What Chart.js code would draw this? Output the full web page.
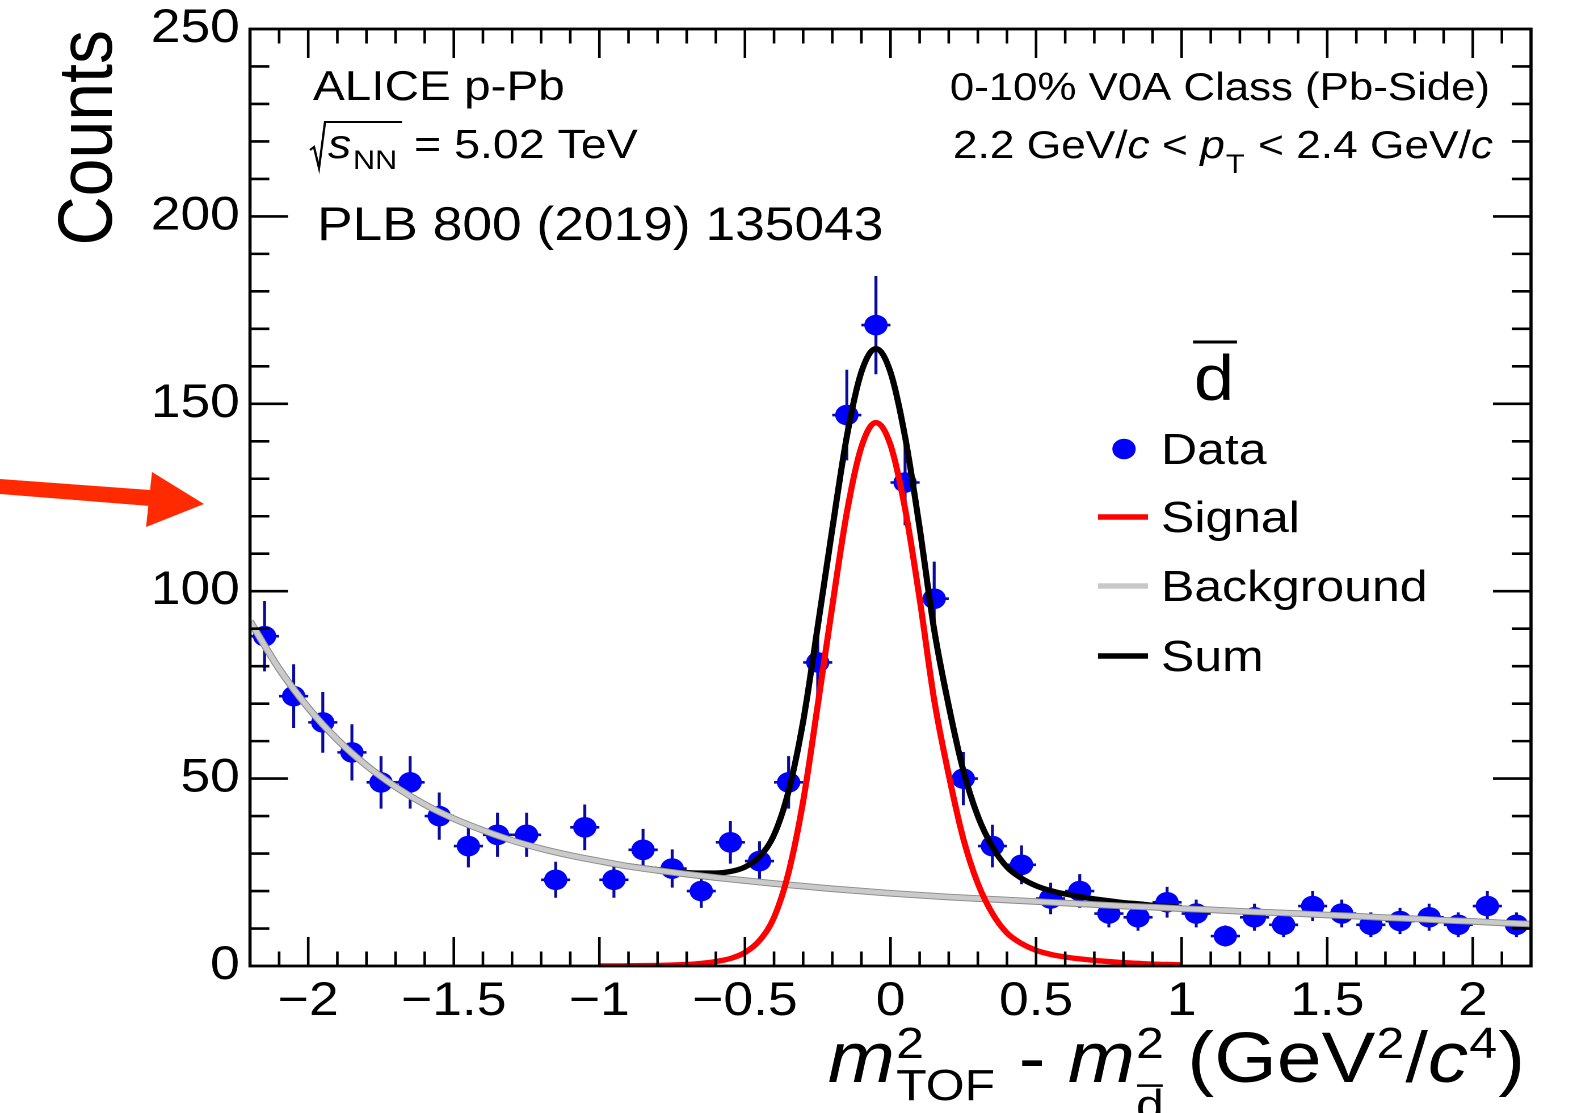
<!DOCTYPE html>
<html><head><meta charset="utf-8">
<script src="https://cdn.jsdelivr.net/npm/chart.js@4.4.0/dist/chart.umd.min.js"></script>
<style>
html,body{margin:0;padding:0;background:#fff;overflow:hidden;width:1573px;height:1113px;}
#wrap{position:absolute;left:0;top:0;width:1386px;height:1113px;transform:scaleX(1.134921);transform-origin:0 0;}
canvas{display:block;}
</style></head><body>
<div id="wrap"><canvas id="c" width="1386" height="1113" style="width:1386px;height:1113px"></canvas></div>
<script>
// ---------- data ----------
const binCenters = [-2.15,-2.05,-1.95,-1.85,-1.75,-1.65,-1.55,-1.45,-1.35,-1.25,-1.15,-1.05,-0.95,-0.85,-0.75,-0.65,-0.55,-0.45,-0.35,-0.25,-0.15,-0.05,0.05,0.15,0.25,0.35,0.45,0.55,0.65,0.75,0.85,0.95,1.05,1.15,1.25,1.35,1.45,1.55,1.65,1.75,1.85,1.95,2.05,2.15];
const counts = [88,72,65,57,49,49,40,32,35,35,23,37,23,31,26,20,33,28,49,81,147,171,129,98,50,32,27,18,20,14,13,17,14,8,13,11,16,14,11,12,13,11,16,11];
const countErrors = [9.4,8.5,8.1,7.5,7.0,7.0,6.3,5.7,5.9,5.9,4.8,6.1,4.8,5.6,5.1,4.5,5.7,5.3,7.0,9.0,12.1,13.1,11.4,9.9,7.1,5.7,5.2,4.2,4.5,3.7,3.6,4.1,3.7,2.8,3.6,3.3,4.0,3.7,3.3,3.5,3.6,3.3,4.0,3.3];
const binHalfWidth = 0.05;

const curveX = [-1.0,-0.95,-0.9,-0.85,-0.8,-0.75,-0.7,-0.65,-0.6,-0.55,-0.5,-0.45,-0.4,-0.35,-0.3,-0.25,-0.2,-0.15,-0.1,-0.05,0.0,0.05,0.1,0.15,0.2,0.25,0.3,0.35,0.4,0.45,0.5,0.55,0.6,0.65,0.7,0.75,0.8,0.85,0.9,0.95,1.0];
const signalY = [0.0,0.0,0.05,0.1,0.15,0.25,0.4,0.7,1.2,2.0,3.6,6.8,13,25,44,69.6,96,121,138.5,145,139,122,98,71,51,34,22,14,8.8,6.0,4.2,3.1,2.4,1.9,1.5,1.2,0.9,0.7,0.5,0.4,0.3];
const sumY = [28.0,27.3,26.7,26.2,25.7,25.3,24.9,24.8,24.8,25.2,26.4,29.2,35.0,46.7,65.3,90.6,116.6,141.3,158.5,164.7,158.4,141.2,116.9,89.7,69.4,52.2,40.0,31.8,26.4,23.4,21.4,20.1,19.2,18.5,17.9,17.4,16.9,16.6,16.2,15.9,15.6];

const bgX = [-2.2,-2.1,-2.0,-1.9,-1.8,-1.7,-1.6,-1.5,-1.4,-1.3,-1.2,-1.1,-1.0,-0.9,-0.8,-0.7,-0.6,-0.5,-0.4,-0.3,-0.2,-0.1,0.0,0.1,0.2,0.3,0.4,0.5,0.6,0.7,0.8,0.9,1.0,1.1,1.2,1.3,1.4,1.5,1.6,1.7,1.8,1.9,2.0,2.1,2.2];
const bgY = [92.0,79.3,68.9,60.4,53.5,47.8,43.1,39.3,36.2,33.5,31.3,29.5,28.0,26.6,25.5,24.5,23.6,22.8,22.0,21.3,20.6,20.0,19.4,18.9,18.4,18.0,17.6,17.2,16.8,16.4,16.0,15.7,15.3,15.0,14.6,14.3,14.0,13.6,13.3,12.9,12.6,12.2,11.9,11.5,11.2];

const legendLabels = ['Data','Signal','Background','Sum'];
const xRange = [-2.2, 2.2];
const yRange = [0, 250];

// ---------- helpers ----------
const S = 1573/1386;               // horizontal stretch of the reference
const ix = v => v / S;             // reference px -> internal px (x only)
const FONT = "'Liberation Sans', Arial, Helvetica, sans-serif";
const fnt = (sz, it) => (it ? 'italic ' : '') + sz + 'px ' + FONT;
function fmtTick(v){ const r = Math.round(v*10)/10; return r < 0 ? '\u2212' + String(-r) : String(r); }

function richWidth(ctx, segs){
  return segs.map(s => {
    if (s.t !== undefined){ ctx.font = fnt(s.sz, s.it); return ctx.measureText(s.t).width; }
    ctx.font = fnt(s.sz, false);
    return Math.max(s.sup ? ctx.measureText(s.sup).width : 0, s.sub ? ctx.measureText(s.sub).width : 0) + 2;
  });
}
function drawRich(ctx, segs, x, y, align){
  const w = richWidth(ctx, segs);
  const total = w.reduce((a,b)=>a+b,0);
  let cx = align === 'right' ? x - total : x;
  ctx.textAlign = 'left'; ctx.textBaseline = 'alphabetic';
  segs.forEach((s,i) => {
    if (s.t !== undefined){ ctx.font = fnt(s.sz, s.it); ctx.fillText(s.t, cx, y + (s.dy||0)); }
    else {
      ctx.font = fnt(s.sz, false);
      if (s.sup) ctx.fillText(s.sup, cx + 1, y + s.supDy);
      if (s.sub){
        ctx.fillText(s.sub, cx + 1, y + s.subDy);
        if (s.subBar){
          const sw = ctx.measureText(s.sub).width;
          ctx.save(); ctx.lineWidth = 2.5; ctx.strokeStyle = '#000';
          const by = y + s.subDy - s.sz*0.78;
          ctx.beginPath(); ctx.moveTo(cx + 2, by); ctx.lineTo(cx + sw, by); ctx.stroke(); ctx.restore();
        }
      }
    }
    cx += w[i];
  });
}

// ---------- plugins ----------
const errorBars = {
  id: 'errorBars',
  beforeDatasetsDraw(chart){
    const {ctx, scales:{x, y}, chartArea:a} = chart;
    ctx.save();
    ctx.beginPath(); ctx.rect(a.left, a.top, a.right-a.left, a.bottom-a.top); ctx.clip();
    ctx.strokeStyle = '#0a0a9c'; ctx.lineWidth = 2.6;
    binCenters.forEach((xc, i) => {
      const px = x.getPixelForValue(xc), py = y.getPixelForValue(counts[i]);
      const y1 = y.getPixelForValue(counts[i] - countErrors[i]);
      const y2 = y.getPixelForValue(counts[i] + countErrors[i]);
      const x1 = x.getPixelForValue(xc - binHalfWidth), x2 = x.getPixelForValue(xc + binHalfWidth);
      ctx.beginPath();
      ctx.moveTo(px, y1); ctx.lineTo(px, y2);
      ctx.moveTo(x1, py); ctx.lineTo(x2, py);
      ctx.stroke();
    });
    ctx.restore();
  }
};

const frame = {
  id: 'frame',
  afterDatasetsDraw(chart){
    const {ctx, scales:{x, y}, chartArea:a} = chart;
    ctx.save();
    ctx.strokeStyle = '#000';
    ctx.lineWidth = 2.3;
    for (let k = -21; k <= 21; k++){
      const px = x.getPixelForValue(k/10);
      const L = (k % 5 === 0) ? 29 : 14.5;
      ctx.beginPath();
      ctx.moveTo(px, a.bottom); ctx.lineTo(px, a.bottom - L);
      ctx.moveTo(px, a.top); ctx.lineTo(px, a.top + L);
      ctx.stroke();
    }
    ctx.lineWidth = 2.6;
    for (let v = 10; v < 250; v += 10){
      const py = y.getPixelForValue(v);
      const L = (v % 50 === 0) ? 33.5 : 17;
      ctx.beginPath();
      ctx.moveTo(a.left, py); ctx.lineTo(a.left + L, py);
      ctx.moveTo(a.right, py); ctx.lineTo(a.right - L, py);
      ctx.stroke();
    }
    ctx.lineWidth = 2.8;
    ctx.strokeRect(a.left, a.top, a.right - a.left, a.bottom - a.top);
    ctx.restore();
  }
};

const texts = {
  id: 'texts',
  afterDraw(chart){
    const ctx = chart.ctx;
    ctx.save();
    ctx.fillStyle = '#000'; ctx.strokeStyle = '#000';
    ctx.textBaseline = 'alphabetic';

    // top-left labels
    ctx.font = fnt(42); ctx.textAlign = 'left';
    ctx.fillText('ALICE p-Pb', ix(313), 100);
    // sqrt(s_NN)
    ctx.lineWidth = 2;
    ctx.beginPath();
    ctx.moveTo(ix(310), 150); ctx.lineTo(ix(314), 147); ctx.lineTo(ix(319), 168);
    ctx.lineTo(ix(325), 122); ctx.lineTo(ix(402), 122);
    ctx.stroke();
    ctx.font = fnt(41, true); ctx.fillText('s', ix(328), 158);
    ctx.font = fnt(27); ctx.fillText('NN', ix(353), 169);
    ctx.font = fnt(41); ctx.fillText('= 5.02 TeV', ix(414), 158);
    ctx.font = fnt(47); ctx.fillText('PLB 800 (2019) 135043', ix(317), 240);

    // top-right labels
    ctx.font = fnt(38.6); ctx.textAlign = 'right';
    ctx.fillText('0-10% V0A Class (Pb-Side)', ix(1490), 100);
    drawRich(ctx, [
      {t:'2.2 GeV/', sz:39}, {t:'c', sz:39, it:true}, {t:' < ', sz:39}, {t:'p', sz:39, it:true},
      {sub:'T', sz:27, subDy:15}, {t:' < 2.4 GeV/', sz:39}, {t:'c', sz:39, it:true}
    ], ix(1493), 158, 'right');

    // legend header (anti-deuteron)
    ctx.font = fnt(64); ctx.textAlign = 'center';
    ctx.fillText('d', ix(1214), 400);
    ctx.lineWidth = 3;
    ctx.beginPath(); ctx.moveTo(ix(1193), 342); ctx.lineTo(ix(1237), 342); ctx.stroke();

    // legend entries
    const rows = [449, 517, 586, 656];
    ctx.fillStyle = '#0000ff';
    ctx.beginPath(); ctx.arc(ix(1124), rows[0], 10.3, 0, Math.PI*2); ctx.fill();
    const lineCols = [null, '#ff0000', '#c8c8c8', '#000000'];
    ctx.lineWidth = 5.5;
    for (let i = 1; i < 4; i++){
      ctx.strokeStyle = lineCols[i];
      ctx.beginPath(); ctx.moveTo(ix(1098), rows[i]); ctx.lineTo(ix(1148), rows[i]); ctx.stroke();
    }
    ctx.fillStyle = '#000'; ctx.textAlign = 'left'; ctx.font = fnt(44);
    legendLabels.forEach((l, i) => ctx.fillText(l, ix(1161), rows[i] + 15));

    // x axis title
    drawRich(ctx, [
      {t:'m', sz:71, it:true},
      {sup:'2', sub:'TOF', sz:44, supDy:-24, subDy:18},
      {t:' - ', sz:71},
      {t:'m', sz:71, it:true},
      {sup:'2', sub:'d', sz:44, supDy:-24, subDy:38, subBar:true},
      {t:' (GeV', sz:71},
      {sup:'2', sz:44, supDy:-24},
      {t:'/', sz:71},
      {t:'c', sz:71, it:true},
      {sup:'4', sz:44, supDy:-24},
      {t:')', sz:71}
    ], ix(1525), 1082, 'right');

    // y axis title
    ctx.save();
    ctx.translate(ix(112), 30);
    ctx.rotate(-Math.PI/2);
    ctx.font = fnt(68); ctx.textAlign = 'right'; ctx.textBaseline = 'alphabetic';
    ctx.fillText('Counts', 0, 0);
    ctx.restore();

    // red pointer arrow at the left edge
    ctx.fillStyle = '#ff2a00';
    ctx.beginPath();
    ctx.moveTo(ix(0), 479); ctx.lineTo(ix(150), 490); ctx.lineTo(ix(150), 506); ctx.lineTo(ix(0), 494);
    ctx.closePath(); ctx.fill();
    ctx.beginPath();
    ctx.moveTo(ix(152), 472); ctx.lineTo(ix(204), 504); ctx.lineTo(ix(146), 527);
    ctx.closePath(); ctx.fill();
    ctx.restore();
  }
};

// ---------- chart ----------
const pts = (xs, ys) => xs.map((x, i) => ({x, y: ys[i]}));
const lineBase = {type:'line', pointRadius:0, fill:false, cubicInterpolationMode:'monotone', borderCapStyle:'butt', borderJoinStyle:'round'};

new Chart(document.getElementById('c'), {
  type: 'scatter',
  data: {
    datasets: [
      Object.assign({label:'Signal', data: pts(curveX, signalY), borderColor:'#ff0000', borderWidth:5.4, order:0}, lineBase),
      Object.assign({label:'Background', data: pts(bgX, bgY), borderColor:'#cacaca', borderWidth:4.8, order:1}, lineBase),
      Object.assign({label:'Background edge', data: pts(bgX, bgY), borderColor:'#8a8a8a', borderWidth:6.6, order:2}, lineBase),
      Object.assign({label:'Sum', data: pts(curveX, sumY), borderColor:'#000000', borderWidth:5.4, order:3}, lineBase),
      {label:'Data', data: pts(binCenters, counts), backgroundColor:'#0000ff', borderWidth:0, pointRadius:10.3, pointHoverRadius:10.3, order:4}
    ]
  },
  options: {
    responsive: false, animation: false, devicePixelRatio: 2,
    layout: {padding: {top: 29, right: 37, left: 0, bottom: 0}},
    plugins: {legend: {display: false}, tooltip: {enabled: false}},
    scales: {
      x: {
        type: 'linear', min: xRange[0], max: xRange[1],
        grid: {display: false, drawTicks: false}, border: {display: false},
        ticks: {stepSize: 0.5, includeBounds: false, autoSkip: false, maxRotation: 0, padding: 8,
                color: '#000', font: {family: FONT, size: 47}, callback: v => fmtTick(v)},
        afterFit(s){ s.height = 147; s.paddingLeft = 0; s.paddingRight = 0; }
      },
      y: {
        type: 'linear', min: yRange[0], max: yRange[1],
        grid: {display: false, drawTicks: false}, border: {display: false},
        ticks: {stepSize: 50, autoSkip: false, padding: 9, color: '#000', font: {family: FONT, size: 47}},
        afterFit(s){ s.width = ix(250); s.paddingTop = 0; s.paddingBottom = 0; }
      }
    }
  },
  plugins: [errorBars, frame, texts]
});
</script>
</body></html>
